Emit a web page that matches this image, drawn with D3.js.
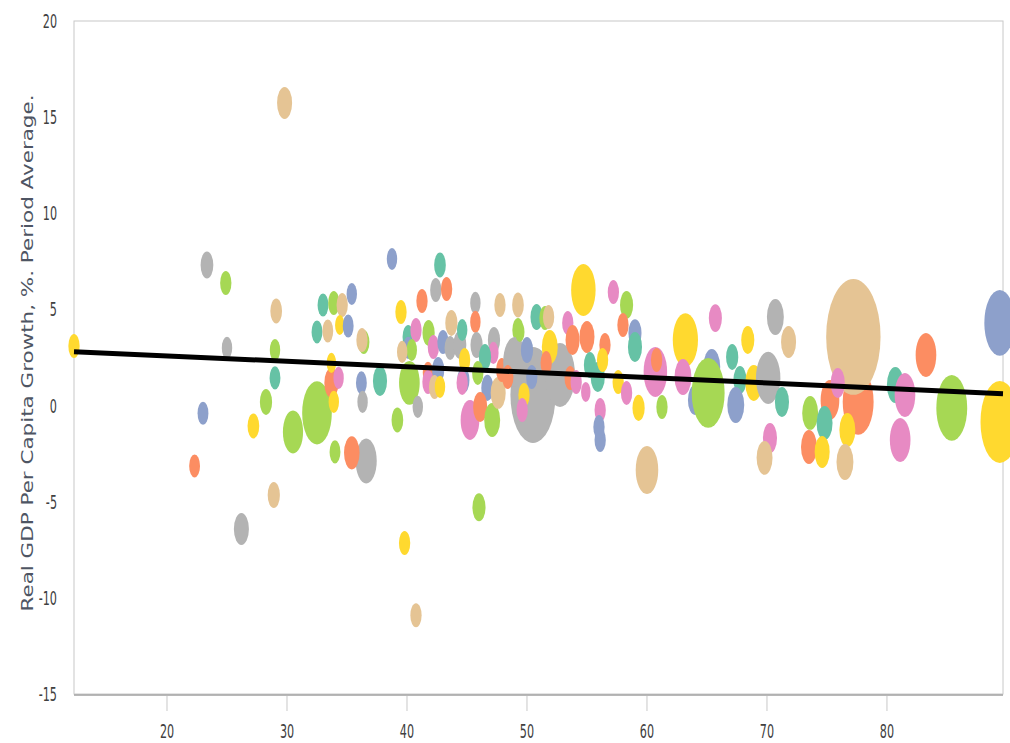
<!DOCTYPE html>
<html><head><meta charset="utf-8">
<script src="https://cdn.jsdelivr.net/npm/d3@7/dist/d3.min.js"></script>
<style>body{margin:0;background:#fff}svg{display:block}</style>
</head><body>
<svg id="chart" width="1010" height="743"></svg>
<script>
// ---- data (x: share %, y: real GDP per capita growth %, size: population-like weight, group) ----
const xs = [29.8,23.33,24.9,25,23,22.3,26.2,28.9,27.2,28.25,29,29,29.1,12.25,
 30.5,32.5,34,36.6,35.4,33.7,33.7,34.3,33.9,33,33.9,34.6,35.4,32.5,33.4,34.4,35.1,36.4,36.25,36.2,36.3,37.75,
 38.75,42.75,42.4,43.3,41.25,39.5,43.7,45.7,45.7,47.75,49.25,40.2,39.2,40.9,40.1,40.1,40.75,40.4,39.6,41.8,42.2,43,43.6,44.4,44.6,45.8,47.25,47.2,46.5,44.8,41.75,42.6,41.75,42.3,42.75,44.7,44.6,45.9,46.7,45.25,46.1,47.1,47.6,47.9,48.6,49.25,
 50.5,52.75,49,50.8,51.5,51.8,51.9,51.6,50,50.4,49.75,49.6,49.4,48.4,
 53.4,54.7,57.2,58.3,58,53.8,55,56.5,55.25,55.9,56.3,53.6,54.1,56.1,56.1,56,54.9,57.6,58.3,59,59,59.3,60.7,60.8,61.25,60,
 65.7,63.2,70.7,71.8,68.4,63,65.4,64,65.1,67.1,67.75,67.4,68.9,70.1,71.25,70.25,69.8,73.6,73.5,
 77.6,75.25,77.2,75.9,76.7,74.8,74.6,76.5,83.25,80.7,81.5,81.1,85.4,89.4,89.4,
 39.8,46,40.75];
const ys = [15.74,7.31,6.37,3.0,-0.4,-3.14,-6.42,-4.65,-1.06,0.19,1.44,2.89,4.92,3.1,
 -1.37,-0.38,-2.41,-2.88,-2.46,1.18,2.22,1.44,0.19,5.23,5.34,5.23,5.8,3.83,3.88,4.19,4.14,3.3,3.41,1.18,0.19,1.28,
 7.62,7.31,6.01,6.06,5.44,4.87,4.3,5.34,4.35,5.23,5.23,1.18,-0.75,-0.07,3.57,3.0,3.93,2.89,2.79,3.78,3.05,3.31,3.0,3.15,3.93,3.15,3.41,2.74,2.53,2.37,1.7,1.85,1.23,0.97,0.97,1.33,1.18,1.7,0.92,-0.75,-0.07,-0.75,0.66,1.85,1.59,3.93,
 0.55,1.59,2.27,4.61,4.55,4.61,3.05,2.22,2.89,1.49,0.55,-0.23,3.83,1.49,
 4.3,6.01,5.9,5.23,4.19,3.41,3.57,3.15,2.11,1.49,2.37,1.43,1.23,-0.23,-1.79,-1.11,0.71,1.23,0.66,3.77,3.05,-0.12,1.75,2.37,-0.07,-3.35,
 4.55,3.41,4.61,3.31,3.41,1.49,2.01,0.29,0.66,2.53,1.33,0.03,1.18,1.44,0.19,-1.69,-2.72,-0.38,-2.15,
 0.19,0.29,3.57,1.18,-1.27,-0.9,-2.41,-2.93,2.63,1.07,0.55,-1.79,-0.12,4.3,-0.85,
 -7.15,-5.29,-10.9];
const sizes = [7.1,5.1,4,3.4,3.7,3.7,7.1,4.7,4.3,4.7,3.7,3.4,4.3,4,
 12.8,27.6,3.7,14,7.6,6.25,2.8,3.4,3.4,3.7,4,4,3.4,3.7,3.7,2.8,3.7,4,4,3.7,3.4,6.25,
 3.4,4.3,4,4,4,4,4.7,3.4,3.4,4,4.3,13.4,4.3,3.4,4,3.4,4,3.4,3.4,4.7,4,4,4,5.4,3.4,4.7,4.7,3.4,4.7,4,3.4,4.7,4,4,3.4,4.7,4,4,4.7,11,6.25,8,7.1,4,4,4,
 64,28.4,17.4,4.7,4,4,8,4,4.7,4,4,4,2.8,4,
 4,18.8,4,5.4,4,6.25,7.1,4,4.7,6.25,4,4,4,4,4,4,2.8,4,4,5.4,6.25,4.7,17.4,4,4,16,
 5.4,20,9,7.1,5.4,9,9,6.25,34,4.7,5.4,9,9,18.8,6.25,6.25,8,8,8,
 30,11,93,6.25,8,8,7.1,9,13.4,9,13.4,13.4,30,30,46.7,
 4,5.4,4];
const groups = ["Tan","Gray","Green","Gray","Blue","Orange","Gray","Tan","Yellow","Green","Teal","Green","Tan","Yellow",
 "Green","Green","Green","Gray","Orange","Orange","Yellow","Pink","Yellow","Teal","Green","Tan","Blue","Teal","Tan","Yellow","Blue","Green","Tan","Blue","Gray","Teal",
 "Blue","Teal","Gray","Orange","Orange","Yellow","Tan","Gray","Orange","Tan","Tan","Green","Green","Gray","Teal","Blue","Pink","Green","Tan","Green","Pink","Blue","Gray","Gray","Teal","Gray","Gray","Pink","Teal","Yellow","Orange","Blue","Pink","Tan","Yellow","Blue","Pink","Green","Blue","Pink","Orange","Green","Tan","Orange","Orange","Green",
 "Gray","Gray","Gray","Teal","Green","Tan","Yellow","Orange","Blue","Blue","Yellow","Pink","Green","Orange",
 "Pink","Yellow","Pink","Green","Orange","Orange","Orange","Orange","Teal","Teal","Yellow","Orange","Pink","Pink","Blue","Blue","Pink","Yellow","Pink","Blue","Teal","Yellow","Pink","Orange","Green","Tan",
 "Pink","Yellow","Gray","Tan","Yellow","Pink","Blue","Blue","Green","Teal","Teal","Blue","Yellow","Gray","Teal","Pink","Tan","Green","Orange",
 "Orange","Orange","Tan","Pink","Yellow","Teal","Yellow","Tan","Orange","Teal","Pink","Pink","Green","Blue","Yellow",
 "Yellow","Green","Tan"];
const groupNames = ["Teal","Orange","Blue","Pink","Green","Yellow","Tan","Gray"];
const groupColors = ["#66c2a5","#fc8d62","#8da0cb","#e78ac3","#a6d854","#ffd92f","#e5c494","#b3b3b3"];
const xTicks = [20,30,40,50,60,70,80];
const yTicks = [-15,-10,-5,0,5,10,15,20];
const trendX = [12.25, 89.67];
const trendY = [2.8, 0.62];
const yTitle = "Real GDP Per Capita Growth, %. Period Average.";

(function(){
const svg = d3.select("#chart");
const pL = 74, pR = 1003, pT = 21, pB = 694;
const x = d3.scaleLinear().domain([12.25, 89.67]).range([pL, pR]);
const y = d3.scaleLinear().domain([-15, 20]).range([pB, pT]);
const r = d3.scaleSqrt().domain([0, 100]).range([0, 60]);
const color = d3.scaleOrdinal().domain(groupNames).range(groupColors);
const aspect = 0.47;

svg.append("rect").attr("width",1010).attr("height",743).attr("fill","#fff");

svg.append("rect").attr("x",pL).attr("y",pT).attr("width",pR-pL).attr("height",pB-pT)
  .attr("fill","none").attr("stroke","#c8c8c8").attr("stroke-width",1);
svg.append("line").attr("x1",pL).attr("x2",pR).attr("y1",pB+1).attr("y2",pB+1)
  .attr("stroke","#a0a0a0").attr("stroke-width",1.5);

const data = xs.map((d,i)=>({x:d, y:ys[i], s:sizes[i], g:groups[i]}));

svg.append("g").selectAll("ellipse").data(data).join("ellipse")
  .attr("cx", d=>x(d.x)).attr("cy", d=>y(d.y))
  .attr("ry", d=>r(d.s)).attr("rx", d=>r(d.s)*aspect)
  .attr("fill", d=>color(d.g));

svg.append("line")
  .attr("x1", x(trendX[0])).attr("y1", y(trendY[0]))
  .attr("x2", x(trendX[1])).attr("y2", y(trendY[1]))
  .attr("stroke","#000").attr("stroke-width",5);

const xt = svg.append("g");
xTicks.forEach(t=>{
  xt.append("line").attr("x1",x(t)).attr("x2",x(t)).attr("y1",pB+2).attr("y2",pB+17)
    .attr("stroke","#c8c8c8").attr("stroke-width",1);
  xt.append("g").attr("transform",`translate(${x(t)},738) scale(0.56,1)`)
    .append("text").attr("text-anchor","middle").attr("font-family","DejaVu Sans")
    .attr("font-size",20).attr("fill","#404040").text(t);
});
const ytg = svg.append("g");
yTicks.forEach(t=>{
  ytg.append("g").attr("transform",`translate(57,${y(t)+7}) scale(0.56,1)`)
    .append("text").attr("text-anchor","end").attr("font-family","DejaVu Sans")
    .attr("font-size",20).attr("fill","#404040").text(t);
});
svg.append("text").attr("transform","translate(33,353) rotate(-90)")
  .attr("text-anchor","middle").attr("font-family","DejaVu Sans").attr("font-size",15)
  .attr("fill","#4e5563").attr("textLength",517).attr("lengthAdjust","spacingAndGlyphs")
  .text(yTitle);
})();
</script>
</body></html>
